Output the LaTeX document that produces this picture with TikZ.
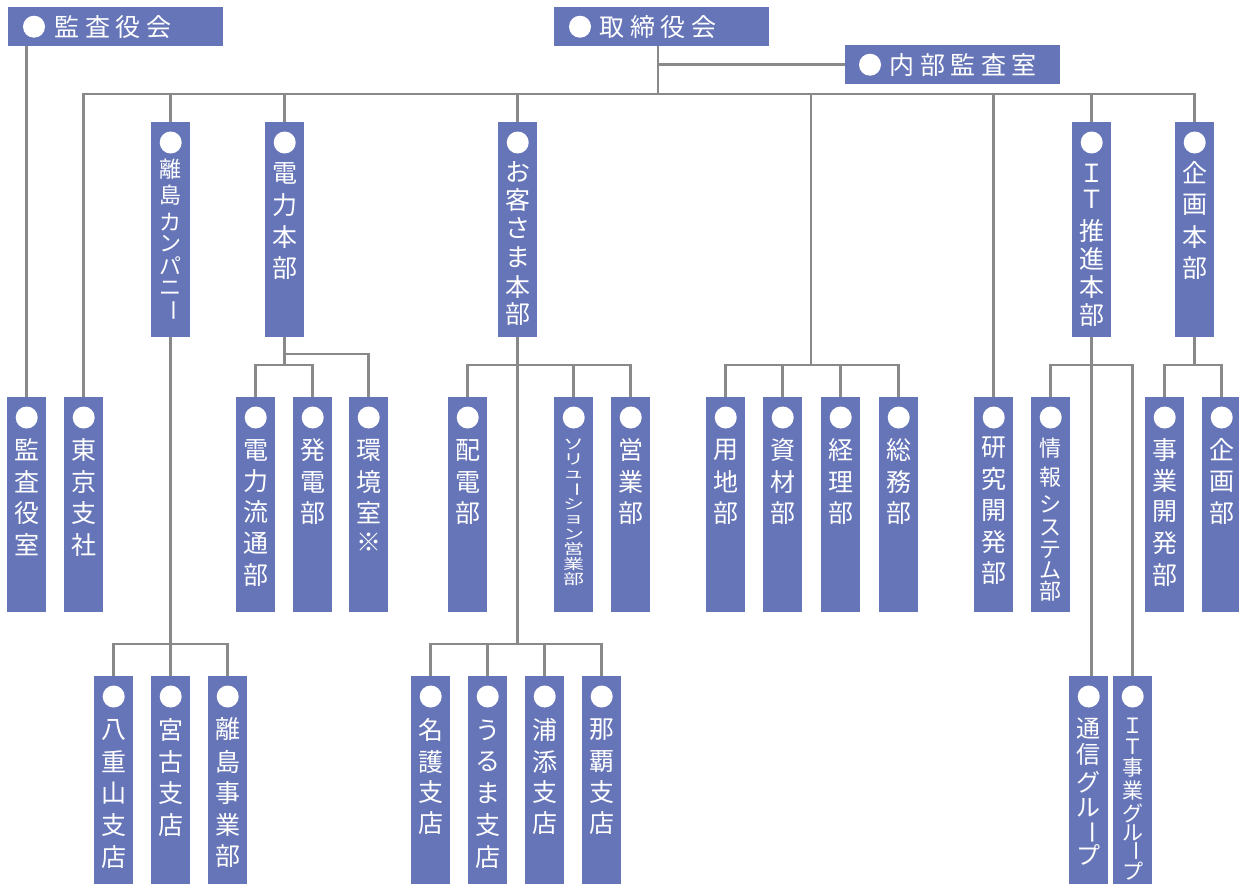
\documentclass[tikz,border=0pt]{standalone}
\usepackage{fontspec}
\setmainfont{Noto Sans CJK JP}
\usetikzlibrary{calc}
\definecolor{boxblue}{RGB}{102,117,184}
\definecolor{linegray}{RGB}{137,137,137}
\pgfdeclarelayer{bg}
\pgfsetlayers{bg,main}
\newcommand\vbar{\rotatebox[origin=c]{-90}{ー}}
\newcommand\sqz[1]{\scalebox{1}[0.68]{#1}}
\newcommand\orgbox[6]{%
  \node[box, minimum height=#4pt] (#1) at (#2,#3) {};
  \fill[white] ($(#1.north)+(0,20.5)$) circle[radius=11pt];
  \foreach \c/\y [count=\i] in {#6} \node[#5] (#1-\i) at (#1.north |- 0,\y) {\c};
}
\newcommand\hdrbox[6]{%
  \node[box, minimum width=215pt, minimum height=39pt] (#1) at (#2,#3) {};
  \fill[white] ($(#1.west)+(#4,0)$) circle[radius=11pt];
  \node[ht, anchor=west] (#1-t) at ($(#1.west)+(#5,0)$) {#6};
}
\begin{document}
\begin{tikzpicture}[x=1pt,y=-1pt,
  box/.style={fill=boxblue, draw=none, inner sep=0pt, anchor=north west, minimum width=39pt},
  conn/.style={draw=linegray, line width=2.6pt, line cap=rect},
  vt/.style={text=white, inner sep=0pt, font=\fontsize{25}{25}\selectfont},
  vm/.style={text=white, inner sep=0pt, font=\fontsize{22}{22}\selectfont},
  vn/.style={text=white, inner sep=0pt, font=\fontsize{24}{24}\selectfont},
  vs/.style={text=white, inner sep=0pt, font=\fontsize{21}{21}\selectfont},
  vx/.style={text=white, inner sep=0pt, font=\fontsize{21}{21}\selectfont},
  ht/.style={text=white, inner sep=0pt, font=\fontsize{25}{25}\selectfont}]
\useasboundingbox (0,0) rectangle (1239,884);

% header boxes
\hdrbox{kansakai}{8}{7}{26}{46.5}{監\kern5.5pt 査\kern5.5pt 役\kern5.5pt 会}
\hdrbox{torishimari}{554}{7}{26}{45.5}{取\kern5.5pt 締\kern5.5pt 役\kern5.5pt 会}
\hdrbox{naibu}{845}{45}{25}{44.5}{内\kern5.5pt 部\kern5.5pt 監\kern5.5pt 査\kern5.5pt 室}

% top-level columns
\orgbox{ritou}{151}{122}{215}{vm}{離/169,島/195,カ/222,ン/244,パ/266,ニ/288,\vbar/310}
\orgbox{denryoku}{265}{122}{215}{vt}{電/173,力/205,本/237,部/268}
\orgbox{okyaku}{498}{122}{215}{vt}{お/172,客/200,さ/228,ま/257,本/287,部/314}
\orgbox{it}{1072}{122}{215}{vt}{Ｉ/173,Ｔ/199,推/231,進/259,本/287,部/315}
\orgbox{kikaku}{1175}{122}{215}{vt}{企/173,画/205,本/237,部/268}

% second row
\orgbox{kansashitsu}{7}{397}{215}{vt}{監/450,査/482,役/513,室/545}
\orgbox{tokyo}{64}{397}{215}{vt}{東/450,京/482,支/513,社/545}
\orgbox{ryutsu}{236}{397}{215}{vt}{電/450,力/481,流/512,通/543,部/575}
\orgbox{hatsuden}{293}{397}{215}{vt}{発/450,電/482,部/513}
\orgbox{kankyo}{349}{397}{215}{vt}{環/450,境/482,室/513,※/542}
\orgbox{haiden}{448}{397}{215}{vt}{配/450,電/482,部/513}
\orgbox{solution}{554}{397}{215}{vx}{\sqz{ソ}/444.5,\sqz{リ}/459.5,\sqz{ュ}/474.5,\sqz{\vbar}/489.5,\sqz{シ}/504.5,\sqz{ョ}/519.5,\sqz{ン}/534.5,\sqz{営}/549.5,\sqz{業}/564.5,\sqz{部}/579.5}
\orgbox{eigyo}{611}{397}{215}{vt}{営/450,業/482,部/513}
\orgbox{youchi}{706}{397}{215}{vt}{用/450,地/482,部/513}
\orgbox{shizai}{763}{397}{215}{vt}{資/450,材/482,部/513}
\orgbox{keiri}{821}{397}{215}{vt}{経/450,理/482,部/513}
\orgbox{soumu}{879}{397}{215}{vt}{総/450,務/482,部/513}
\orgbox{kenkyu}{974}{397}{215}{vt}{研/448,究/479,開/511,発/542,部/573}
\orgbox{joho}{1031}{397}{215}{vm}{情/448,報/477,シ/504,ス/528,テ/550,ム/570,部/591}
\orgbox{jigyokaihatsu}{1145}{397}{215}{vt}{事/450,業/481,開/512,発/543,部/575}
\orgbox{kikakubu}{1202}{397}{215}{vt}{企/450,画/482,部/513}

% third row
\orgbox{yaeyama}{94}{676}{208}{vt}{八/730,重/762,山/793,支/825,店/857}
\orgbox{miyako}{151}{676}{208}{vt}{宮/730,古/762,支/793,店/825}
\orgbox{ritoujigyo}{208}{676}{208}{vt}{離/729,島/762,事/793,業/825,部/856}
\orgbox{nago}{411}{676}{208}{vt}{名/730,護/762,支/792,店/823}
\orgbox{uruma}{468}{676}{208}{vt}{う/730,る/762,ま/793,支/825,店/857}
\orgbox{urasoe}{525}{676}{208}{vt}{浦/730,添/762,支/792,店/823}
\orgbox{naha}{582}{676}{208}{vt}{那/730,覇/762,支/792,店/823}
\orgbox{tsushin}{1069}{676}{208}{vn}{通/729,信/754,グ/782,ル/808,\vbar/832,プ/855}
\orgbox{itjigyo}{1113}{676}{208}{vs}{Ｉ/726,Ｔ/747,事/768,業/790,グ/813,ル/833,\vbar/851,プ/871}

\coordinate (trunk) at (658,94);
\coordinate (somubus) at (811,365);

\begin{pgfonlayer}{bg}
  % audit board
  \draw[conn] (kansashitsu.north) -- (kansashitsu.north |- kansakai.south);
  % board of directors trunk
  \draw[conn] (torishimari.south -| trunk) -- (trunk);
  \draw[conn] (naibu.west -| trunk) -- (naibu.west);
  \draw[conn] (tokyo.north |- trunk) -- (kikaku.north |- trunk);
  \foreach \n in {tokyo,ritou,denryoku,okyaku,kenkyu,it,kikaku}
    \draw[conn] (\n.north) -- (\n.north |- trunk);
  % general affairs group
  \draw[conn] (somubus |- trunk) -- (somubus);
  \draw[conn] (youchi.north |- somubus) -- (soumu.north |- somubus);
  \foreach \n in {youchi,shizai,keiri,soumu}
    \draw[conn] (\n.north) -- (\n.north |- somubus);
  % power division
  \draw[conn] (denryoku.south) -- (denryoku.south |- 0,365);
  \draw[conn] (ryutsu.north |- 0,365) -- (hatsuden.north |- 0,365);
  \draw[conn] (ryutsu.north) -- (ryutsu.north |- 0,365);
  \draw[conn] (hatsuden.north) -- (hatsuden.north |- 0,365);
  \draw[conn] (denryoku.south |- 0,354) -- (kankyo.north |- 0,354) -- (kankyo.north);
  % customer division
  \draw[conn] (okyaku.south) -- (okyaku.south |- 0,644);
  \draw[conn] (haiden.north |- 0,365) -- (eigyo.north |- 0,365);
  \foreach \n in {haiden,solution,eigyo}
    \draw[conn] (\n.north) -- (\n.north |- 0,365);
  \draw[conn] (nago.north |- 0,644) -- (naha.north |- 0,644);
  \foreach \n in {nago,uruma,urasoe,naha}
    \draw[conn] (\n.north) -- (\n.north |- 0,644);
  % island company
  \draw[conn] (ritou.south) -- (ritou.south |- 0,644);
  \draw[conn] (yaeyama.north |- 0,644) -- (ritoujigyo.north |- 0,644);
  \foreach \n in {yaeyama,miyako,ritoujigyo}
    \draw[conn] (\n.north) -- (\n.north |- 0,644);
  % IT division
  \draw[conn] (it.south) -- (it.south |- tsushin.north);
  \draw[conn] (joho.north |- 0,365) -- (itjigyo.north |- 0,365);
  \draw[conn] (joho.north) -- (joho.north |- 0,365);
  \draw[conn] (itjigyo.north) -- (itjigyo.north |- 0,365);
  % planning division
  \draw[conn] (kikaku.south) -- (kikaku.south |- 0,365);
  \draw[conn] (jigyokaihatsu.north |- 0,365) -- (kikakubu.north |- 0,365);
  \draw[conn] (jigyokaihatsu.north) -- (jigyokaihatsu.north |- 0,365);
  \draw[conn] (kikakubu.north) -- (kikakubu.north |- 0,365);
\end{pgfonlayer}
\end{tikzpicture}
\end{document}
